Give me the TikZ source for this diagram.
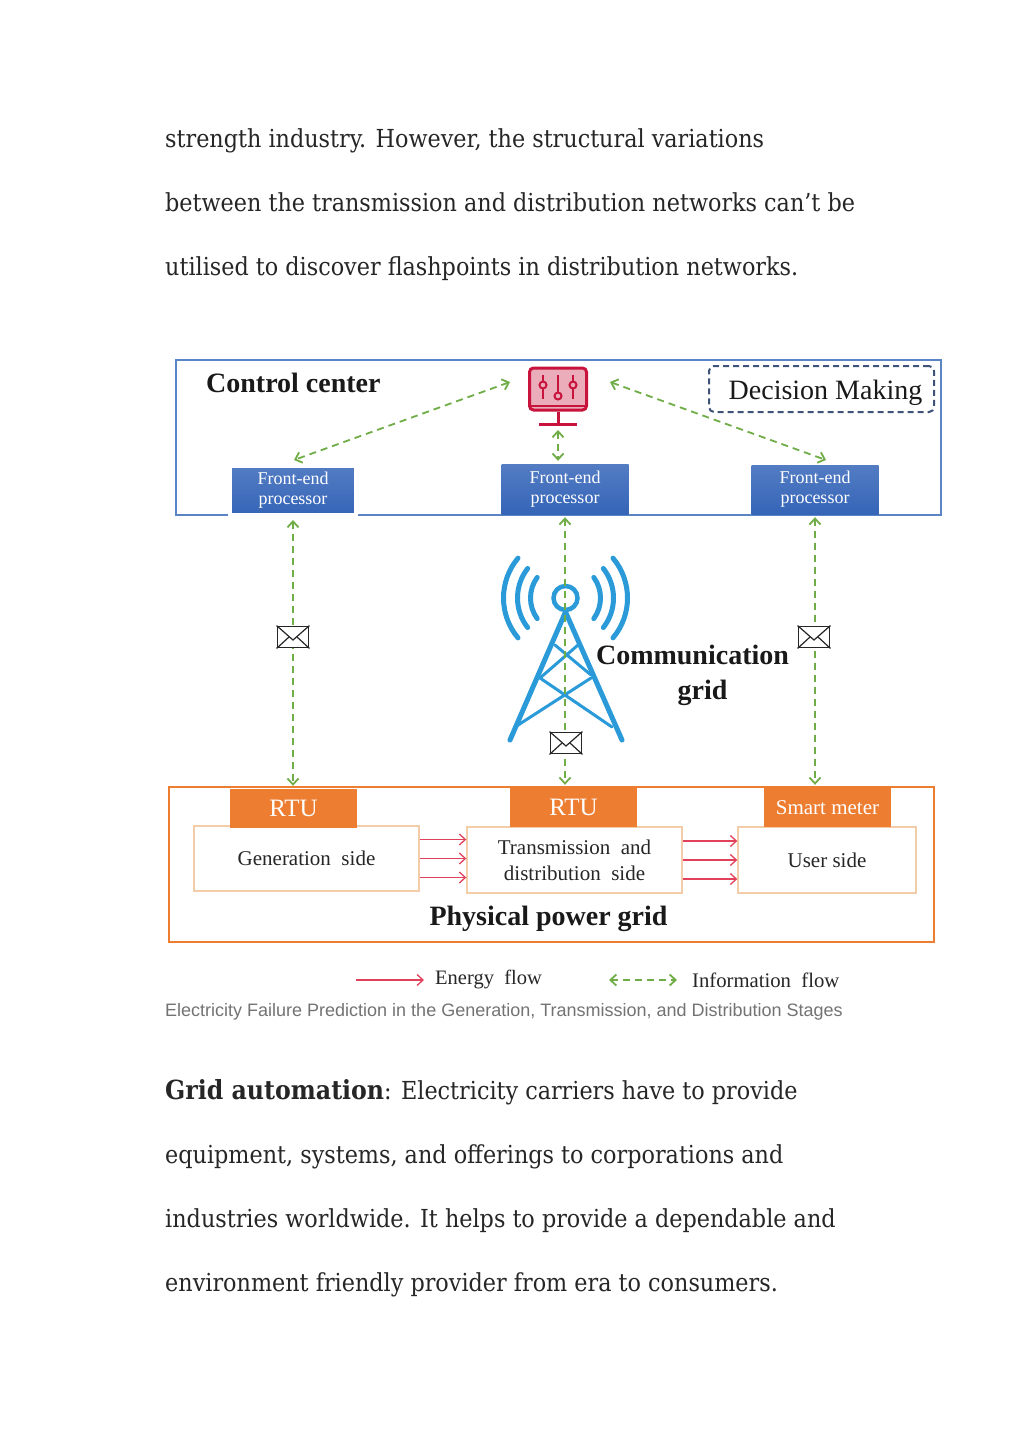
\documentclass[tikz,border=0pt]{standalone}
\usepackage{fontspec}
\setmainfont{Liberation Serif}
\setsansfont{Liberation Sans}
\newfontfamily\bodyfont{DejaVu Serif Condensed}
\usetikzlibrary{arrows.meta,calc}
\definecolor{ctrlblue}{HTML}{5B84C4}
\definecolor{fepblue}{HTML}{3565B8}
\definecolor{decisionblue}{HTML}{3F5378}
\definecolor{gridorange}{HTML}{ED7D31}
\definecolor{sideedge}{HTML}{F2CDA8}
\definecolor{infogreen}{HTML}{70AD47}
\definecolor{energyred}{HTML}{E2415C}
\definecolor{towerblue}{HTML}{2A9BD8}
\definecolor{monitorred}{HTML}{C8143C}
\newcommand{\fsize}[1]{\fontsize{#1}{#1}\selectfont}
\begin{document}
\begin{tikzpicture}[
		x=1pt,y=-1pt,
		bodyline/.style={anchor=base west,inner sep=0pt,text=black!85,font=\bodyfont\fsize{24.8}},
		fepbox/.style={minimum width=124pt,minimum height=47pt,inner sep=0pt,top color=fepblue!85!white,bottom color=fepblue,
			text=white,align=center,font=\fsize{18}},
		rtubox/.style={minimum width=127pt,minimum height=39pt,inner sep=0pt,fill=gridorange,text=white,font=\fsize{25}},
		sidebox/.style={draw=sideedge,line width=1.4pt,fill=white,inner sep=0pt,align=center,font=\fsize{21},text=black!85},
		infoflow/.style={draw=infogreen,line width=1.8pt,dash pattern=on 7pt off 5pt,{Straight Barb[length=6pt,width=11pt]}-{Straight Barb[length=6pt,width=11pt]},shorten <=3pt,shorten >=3pt},
		energyflow/.style={draw=energyred,line width=1.3pt,-{Straight Barb[length=6pt,width=11pt]}},
		mailbox/.style={draw=black!85,line width=1.8pt,fill=white,minimum width=31pt,minimum height=21pt,inner sep=0pt},
		title/.style={inner sep=0pt,font=\bfseries\fsize{28},text=black!90},
		towerline/.style={draw=towerblue,line cap=round}
		]
	\useasboundingbox (0,0) rectangle (1024,1446);
	\fill[white] (0,0) rectangle (1024,1446);

	\node[bodyline] at (165,147)(para1){strength industry. However, the structural variations};
	\node[bodyline] at (165,211)(para2){between the transmission and distribution networks can’t be};
	\node[bodyline] at (165,275)(para3){utilised to discover flashpoints in distribution networks.};
	\node[bodyline] at (165,1099)(para4){{\bfseries\fsize{26.3}Grid automation}: Electricity carriers have to provide};
	\node[bodyline] at (165,1163)(para5){equipment, systems, and offerings to corporations and};
	\node[bodyline] at (165,1227)(para6){industries worldwide. It helps to provide a dependable and};
	\node[bodyline] at (165,1291)(para7){environment friendly provider from era to consumers.};

	\draw[ctrlblue,line width=1.8pt] (176,360) rectangle (941,515);
	\draw[gridorange,line width=1.8pt] (169,787) rectangle (934,942);

	\node[title,anchor=west] at (206,383)(ctrl){Control center};
	\node[draw=decisionblue,dash pattern=on 6pt off 4pt,line width=2pt,rounded corners=5pt,minimum width=225pt,minimum height=46pt,inner sep=0pt] at (821.5,389)(decision){};
	\node[inner sep=0pt,font=\fsize{28},text=black!90] at (825.5,393)(decisionlabel){Decision Making};

	\node[fepbox,draw=white,line width=4pt,minimum width=126pt,minimum height=49pt] at (293,490.5)(fepa){Front-end\\[2pt]processor};
	\node[fepbox,minimum width=127pt,minimum height=50pt] at (565,489)(fepb){Front-end\\[2pt]processor};
	\node[fepbox,minimum width=127pt,minimum height=49pt] at (815,489.5)(fepc){Front-end\\[2pt]processor};

	\node[draw=monitorred,line width=3pt,fill=monitorred!35,rounded corners=4pt,minimum width=57pt,minimum height=42pt,inner sep=0pt] at (558,389)(monitor){};
	\draw[monitorred,line width=2pt] (monitor.south west) ++(0,-6) -- ++(57,0);
	\draw[monitorred,line width=3pt] (monitor.south) -- ++(0,12);
	\draw[monitorred,line width=3pt] ($(monitor.south)+(-19,13)$) -- ++(38,0);
	\foreach \dx/\dy in {-15/-4,0/7,15/-4}{
		\draw[monitorred,line width=2pt] ($(monitor.center)+(\dx,-14)$) -- ++(0,24);
		\draw[monitorred,line width=2pt,fill=monitorred!35] ($(monitor.center)+(\dx,\dy)$) circle (3.5);
	}

	\coordinate (monleft) at (510,382);
	\coordinate (monright) at (610,382);
	\coordinate (fepatop) at (294,460);
	\coordinate (fepctop) at (826,460);
	\draw[infoflow,shorten <=0pt,shorten >=0pt] (monleft) -- (fepatop);
	\draw[infoflow,shorten <=0pt,shorten >=0pt] (monright) -- (fepctop);
	\draw[infoflow] (558,427) -- (fepb.north -| monitor.south);

	\node[sidebox,minimum width=225pt,minimum height=65pt] at (306.5,858.5)(sidea){Generation\ \ side};
	\node[sidebox,minimum width=215pt,minimum height=66pt] at (574.5,860)(sideb){Transmission\ \ and\\[5pt]distribution\ \ side};
	\node[sidebox,minimum width=178pt,minimum height=66pt] at (827,860)(sidec){User side};

	\node[rtubox] at (293.5,808.5)(rtua){RTU};
	\node[rtubox] at (573.5,807.5)(rtub){RTU};
	\node[rtubox,font=\fsize{21}] at (827.5,807.5)(rtuc){Smart meter};

	\foreach \dy in {-19,0,19}{
		\draw[energyflow] ([yshift=\dy pt]sidea.east) -- ([yshift=\dy pt]sidea.east -| sideb.west);
		\draw[energyflow] ([yshift=\dy pt]sideb.east) -- ([yshift=\dy pt]sideb.east -| sidec.west);
	}

	\node[circle,towerline,line width=4.5pt,minimum size=24pt,inner sep=0pt] at (565.5,598)(mast){};
	\foreach \r/\a in {35/36,48/38,62/40}{
		\draw[towerline,line width=5pt] (mast.center) ++(180-\a:\r) arc (180-\a:180+\a:\r);
		\draw[towerline,line width=5pt] (mast.center) ++(-\a:\r) arc (-\a:\a:\r);
	}
	\draw[towerline,line width=5pt] (510,740) -- (565.5,612) -- (622,740);
	\draw[towerline,line width=3pt] (555,645) -- (591,675) (578,645) -- (540,678);
	\draw[towerline,line width=3pt] (540,678) -- (612,727) (591,678) -- (515,727);

	\draw[infoflow] (fepa.south) -- (fepa.south |- rtua.north);
	\draw[infoflow] (fepb.south) -- (fepb.south |- rtub.north);
	\draw[infoflow] (fepc.south) -- (fepc.south |- rtuc.north);

	\node[mailbox] at (293,637)(maila){};
	\node[mailbox] at (566,743)(mailb){};
	\node[mailbox] at (814,637)(mailc){};
	\foreach \m in {maila,mailb,mailc}{
		\draw[black!85,line width=1.2pt] (\m.north west) -- ($(\m.center)+(0,3)$) -- (\m.north east);
		\draw[black!85,line width=1.2pt] (\m.south west) -- ($(\m.center)+(-4,0)$);
		\draw[black!85,line width=1.2pt] (\m.south east) -- ($(\m.center)+(4,0)$);
	}

	\node[title,align=center] at (692.5,675)(comm){Communication\\[7pt]\hspace*{20pt}grid};
	\node[title] at (548.5,919)(phys){Physical power grid};

	\coordinate (energystart) at (356,980);
	\coordinate (energyend) at (424,980);
	\coordinate (infostart) at (609,980);
	\coordinate (infoend) at (677,980);
	\draw[energyflow] (energystart) -- (energyend);
	\draw[infoflow,shorten <=0pt,shorten >=0pt] (infostart) -- (infoend);
	\node[anchor=west,inner sep=0pt,font=\fsize{20.5},text=black!85] at (435,979)(energylabel){Energy\ \ flow};
	\node[anchor=west,inner sep=0pt,font=\fsize{20.7},text=black!85] at (692,980)(infolabel){Information\ \ flow};
	\node[anchor=base west,inner sep=0pt,font=\sffamily\fsize{18},text=black!55] at (165,1016)(caption){Electricity Failure Prediction in the Generation, Transmission, and Distribution Stages};
\end{tikzpicture}
\end{document}
